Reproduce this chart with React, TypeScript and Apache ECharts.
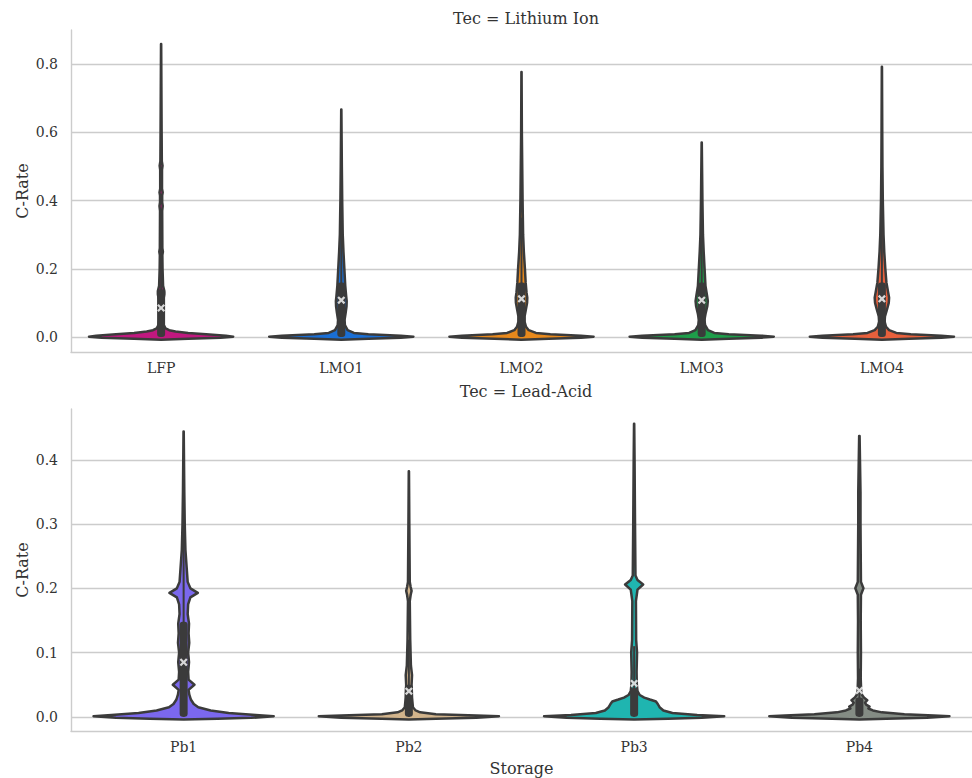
import React, { useEffect, useRef } from "react";
import * as echarts from "echarts";

const liCategories = ["LFP", "LMO1", "LMO2", "LMO3", "LMO4"];
const leadCategories = ["Pb1", "Pb2", "Pb3", "Pb4"];
const liYTicks = [0, 0.2, 0.4, 0.6, 0.8];
const leadYTicks = [0, 0.1, 0.2, 0.3, 0.4];

// Violin outlines: [C-Rate value, half-width as a fraction of the category band]
const lfpProfile = [
  [-0.008, 0], [-0.005, 0.15], [-0.002, 0.33], [0.001, 0.4], [0.004, 0.36], [0.008, 0.25],
  [0.012, 0.15], [0.016, 0.08], [0.02, 0.045], [0.025, 0.025], [0.035, 0.015], [0.05, 0.011],
  [0.08, 0.011], [0.11, 0.013], [0.125, 0.018], [0.135, 0.018], [0.15, 0.011], [0.2, 0.008],
  [0.24, 0.007], [0.25, 0.01], [0.26, 0.007], [0.37, 0.006], [0.384, 0.009], [0.395, 0.006],
  [0.415, 0.006], [0.424, 0.009], [0.435, 0.005], [0.49, 0.005], [0.502, 0.008], [0.515, 0.004],
  [0.6, 0.003], [0.859, 0.0005],
];
const lmo1Profile = [
  [-0.008, 0], [-0.005, 0.15], [-0.002, 0.33], [0.001, 0.4], [0.004, 0.33], [0.008, 0.15],
  [0.012, 0.07], [0.02, 0.035], [0.035, 0.02], [0.05, 0.018], [0.07, 0.024], [0.09, 0.029],
  [0.105, 0.03], [0.12, 0.027], [0.15, 0.022], [0.2, 0.017], [0.25, 0.012], [0.3, 0.008],
  [0.4, 0.005], [0.5, 0.003], [0.667, 0.0005],
];
const lmo2Profile = [
  [-0.008, 0], [-0.005, 0.15], [-0.002, 0.33], [0.001, 0.4], [0.004, 0.33], [0.008, 0.16],
  [0.012, 0.08], [0.02, 0.04], [0.03, 0.025], [0.045, 0.017], [0.06, 0.017], [0.08, 0.024],
  [0.1, 0.031], [0.115, 0.032], [0.13, 0.028], [0.16, 0.023], [0.2, 0.019], [0.25, 0.013],
  [0.3, 0.009], [0.4, 0.006], [0.5, 0.004], [0.6, 0.002], [0.777, 0.0005],
];
const lmo3Profile = [
  [-0.008, 0], [-0.005, 0.15], [-0.002, 0.33], [0.001, 0.4], [0.004, 0.33], [0.008, 0.15],
  [0.012, 0.07], [0.02, 0.035], [0.035, 0.019], [0.05, 0.015], [0.07, 0.022], [0.09, 0.031],
  [0.105, 0.034], [0.12, 0.03], [0.15, 0.021], [0.2, 0.016], [0.25, 0.011], [0.3, 0.007],
  [0.4, 0.004], [0.57, 0.0005],
];
const lmo4Profile = [
  [-0.008, 0], [-0.005, 0.15], [-0.002, 0.33], [0.001, 0.4], [0.004, 0.33], [0.008, 0.16],
  [0.012, 0.08], [0.02, 0.04], [0.03, 0.023], [0.045, 0.015], [0.06, 0.017], [0.08, 0.028],
  [0.1, 0.038], [0.115, 0.04], [0.13, 0.035], [0.16, 0.025], [0.2, 0.019], [0.25, 0.013],
  [0.3, 0.009], [0.4, 0.005], [0.5, 0.003], [0.6, 0.002], [0.792, 0.0005],
];
const pb1Profile = [
  [-0.004, 0], [-0.003, 0.15], [-0.0015, 0.3], [0.001, 0.4], [0.003, 0.32], [0.006, 0.2],
  [0.01, 0.12], [0.015, 0.065], [0.02, 0.045], [0.027, 0.032], [0.035, 0.025], [0.042, 0.022],
  [0.05, 0.048], [0.058, 0.022], [0.07, 0.02], [0.085, 0.024], [0.1, 0.02], [0.115, 0.025],
  [0.13, 0.022], [0.145, 0.024], [0.16, 0.018], [0.175, 0.02], [0.186, 0.03], [0.193, 0.063],
  [0.2, 0.03], [0.21, 0.018], [0.23, 0.014], [0.26, 0.008], [0.3, 0.005], [0.35, 0.003],
  [0.444, 0.0005],
];
const pb2Profile = [
  [-0.004, 0], [-0.003, 0.12], [-0.0015, 0.3], [0.001, 0.4], [0.002, 0.3], [0.004, 0.12],
  [0.007, 0.05], [0.01, 0.03], [0.015, 0.018], [0.03, 0.014], [0.05, 0.012], [0.065, 0.014],
  [0.08, 0.009], [0.12, 0.006], [0.18, 0.004], [0.19, 0.008], [0.196, 0.012], [0.202, 0.008],
  [0.21, 0.004], [0.3, 0.002], [0.382, 0.0005],
];
const pb3Profile = [
  [-0.004, 0], [-0.003, 0.15], [-0.0015, 0.3], [0.001, 0.4], [0.003, 0.28], [0.006, 0.17],
  [0.01, 0.13], [0.015, 0.113], [0.02, 0.105], [0.024, 0.097], [0.027, 0.07], [0.03, 0.045],
  [0.034, 0.025], [0.04, 0.015], [0.05, 0.012], [0.07, 0.011], [0.1, 0.013], [0.12, 0.009],
  [0.18, 0.008], [0.198, 0.015], [0.206, 0.04], [0.213, 0.015], [0.22, 0.006], [0.3, 0.004],
  [0.4, 0.002], [0.456, 0.0005],
];
const pb4Profile = [
  [-0.004, 0], [-0.003, 0.12], [-0.0015, 0.3], [0.001, 0.4], [0.002, 0.33], [0.004, 0.2],
  [0.007, 0.1], [0.01, 0.06], [0.013, 0.04], [0.016, 0.045], [0.019, 0.03], [0.022, 0.025],
  [0.026, 0.035], [0.03, 0.02], [0.034, 0.012], [0.04, 0.008], [0.06, 0.006], [0.1, 0.007],
  [0.15, 0.006], [0.19, 0.007], [0.2, 0.018], [0.21, 0.007], [0.3, 0.005], [0.35, 0.005],
  [0.437, 0.001],
];

const liProfiles = [lfpProfile, lmo1Profile, lmo2Profile, lmo3Profile, lmo4Profile];
const leadProfiles = [pb1Profile, pb2Profile, pb3Profile, pb4Profile];

// Inner box statistics
const liQ1 = [0, 0, 0, 0, 0];
const liQ3 = [0.14, 0.16, 0.16, 0.16, 0.16];
const liWhiskerHigh = [0.34, 0.34, 0.35, 0.33, 0.35];
const liMeans = [0.085, 0.108, 0.112, 0.108, 0.112];

const leadQ1 = [0, 0, 0, 0];
const leadQ3 = [0.148, 0.05, 0.045, 0.03];
const leadWhiskerHigh = [0.37, 0.12, 0.11, 0.075];
const leadMeans = [0.085, 0.04, 0.052, 0.041];

const liColors = ["#c0187f", "#1a6fd6", "#e8891c", "#1e9e4a", "#e8603c"];
const leadColors = ["#7b68ee", "#d2b48c", "#1fb5b0", "#848c84"];

const FONT = "DejaVu Serif";
const EDGE = "#3b3b3b";
const GRID = "#cccccc";
const TEXT = "#333333";
const XMARK =
  "path://M0,2 L2,0 L5,3 L8,0 L10,2 L7,5 L10,8 L8,10 L5,7 L2,10 L0,8 L3,5 Z";

function makeRenderItem(
  profiles: number[][][],
  q1: number[],
  q3: number[],
  wh: number[],
  colors: string[]
) {
  return (params: any, api: any) => {
    const i = params.dataIndex;
    const prof = profiles[i];
    const band = api.size([1, 0])[0];
    const left: number[][] = [];
    const right: number[][] = [];
    for (const [v, w] of prof) {
      const p = api.coord([i, v]);
      left.push([p[0] - w * band, p[1]]);
      right.push([p[0] + w * band, p[1]]);
    }
    const pts = left.concat(right.reverse());
    const c0 = api.coord([i, q1[i]]);
    const c1 = api.coord([i, q3[i]]);
    const cw = api.coord([i, wh[i]]);
    const boxW = 8;
    return {
      type: "group",
      children: [
        {
          type: "polygon",
          shape: { points: pts },
          style: { fill: colors[i], stroke: EDGE, lineWidth: 2.5, lineJoin: "round" },
        },
        {
          type: "line",
          shape: { x1: c0[0], y1: c0[1], x2: cw[0], y2: cw[1] },
          style: { stroke: EDGE, lineWidth: 2 },
        },
        {
          type: "rect",
          shape: { x: c1[0] - boxW / 2, y: c1[1], width: boxW, height: c0[1] - c1[1], r: 3 },
          style: { fill: EDGE },
        },
      ],
    };
  };
}

function yAxisCfg(gridIndex: number, min: number, max: number, ticks: number[]) {
  return {
    type: "value",
    gridIndex,
    min,
    max,
    name: "C-Rate",
    nameLocation: "middle",
    nameGap: 41,
    nameMoveOverlap: false,
    nameTextStyle: { fontFamily: FONT, fontSize: 16, color: TEXT },
    axisLine: { show: true, lineStyle: { color: GRID, width: 1.4 } },
    axisTick: { show: false, customValues: ticks },
    axisLabel: {
      customValues: ticks,
      formatter: (v: number) => v.toFixed(1),
      fontFamily: FONT,
      fontSize: 14,
      color: TEXT,
      margin: 13,
    },
    splitLine: { show: true, lineStyle: { color: GRID, width: 1.4 } },
  };
}

function xAxisCfg(gridIndex: number, data: string[], name: string) {
  return {
    type: "category",
    gridIndex,
    data,
    name,
    nameLocation: "middle",
    nameGap: 29,
    nameTextStyle: { fontFamily: FONT, fontSize: 16, color: TEXT },
    axisLine: { show: true, onZero: false, lineStyle: { color: GRID, width: 1.4 } },
    axisTick: { show: false },
    axisLabel: { fontFamily: FONT, fontSize: 14, color: TEXT, margin: 9 },
    splitLine: { show: false },
  };
}

export default function App() {
  const ref = useRef<HTMLDivElement>(null);
  useEffect(() => {
    document.body.style.margin = "0";
    const chart = echarts.init(ref.current!, undefined, { renderer: "svg" });
    chart.setOption({
      animation: false,
      backgroundColor: "#ffffff",
      title: [
        {
          text: "Tec = Lithium Ion",
          left: 521,
          top: 5,
          textAlign: "center",
          textStyle: { fontFamily: FONT, fontSize: 16, fontWeight: "normal", color: TEXT },
        },
        {
          text: "Tec = Lead-Acid",
          left: 521,
          top: 378,
          textAlign: "center",
          textStyle: { fontFamily: FONT, fontSize: 16, fontWeight: "normal", color: TEXT },
        },
      ],
      grid: [
        { left: 71, right: 0, top: 30, height: 322 },
        { left: 71, right: 0, top: 409, height: 322 },
      ],
      xAxis: [xAxisCfg(0, liCategories, ""), xAxisCfg(1, leadCategories, "Storage")],
      yAxis: [yAxisCfg(0, -0.044, 0.9, liYTicks), yAxisCfg(1, -0.022, 0.479, leadYTicks)],
      series: [
        {
          type: "custom",
          xAxisIndex: 0,
          yAxisIndex: 0,
          z: 2,
          renderItem: makeRenderItem(liProfiles, liQ1, liQ3, liWhiskerHigh, liColors),
          data: liCategories.map((c, i) => [i, liMeans[i]]),
          encode: { x: 0, y: 1 },
        },
        {
          type: "custom",
          xAxisIndex: 1,
          yAxisIndex: 1,
          z: 2,
          renderItem: makeRenderItem(leadProfiles, leadQ1, leadQ3, leadWhiskerHigh, leadColors),
          data: leadCategories.map((c, i) => [i, leadMeans[i]]),
          encode: { x: 0, y: 1 },
        },
        {
          type: "scatter",
          xAxisIndex: 0,
          yAxisIndex: 0,
          z: 5,
          symbol: XMARK,
          symbolSize: 8,
          itemStyle: { color: "#ffffff" },
          data: liCategories.map((c, i) => [i, liMeans[i]]),
        },
        {
          type: "scatter",
          xAxisIndex: 1,
          yAxisIndex: 1,
          z: 5,
          symbol: XMARK,
          symbolSize: 8,
          itemStyle: { color: "#ffffff" },
          data: leadCategories.map((c, i) => [i, leadMeans[i]]),
        },
      ],
    });
    return () => chart.dispose();
  }, []);
  return (
    <div
      ref={ref}
      style={{ position: "absolute", left: 0, top: 0, width: 972, height: 778 }}
    />
  );
}
